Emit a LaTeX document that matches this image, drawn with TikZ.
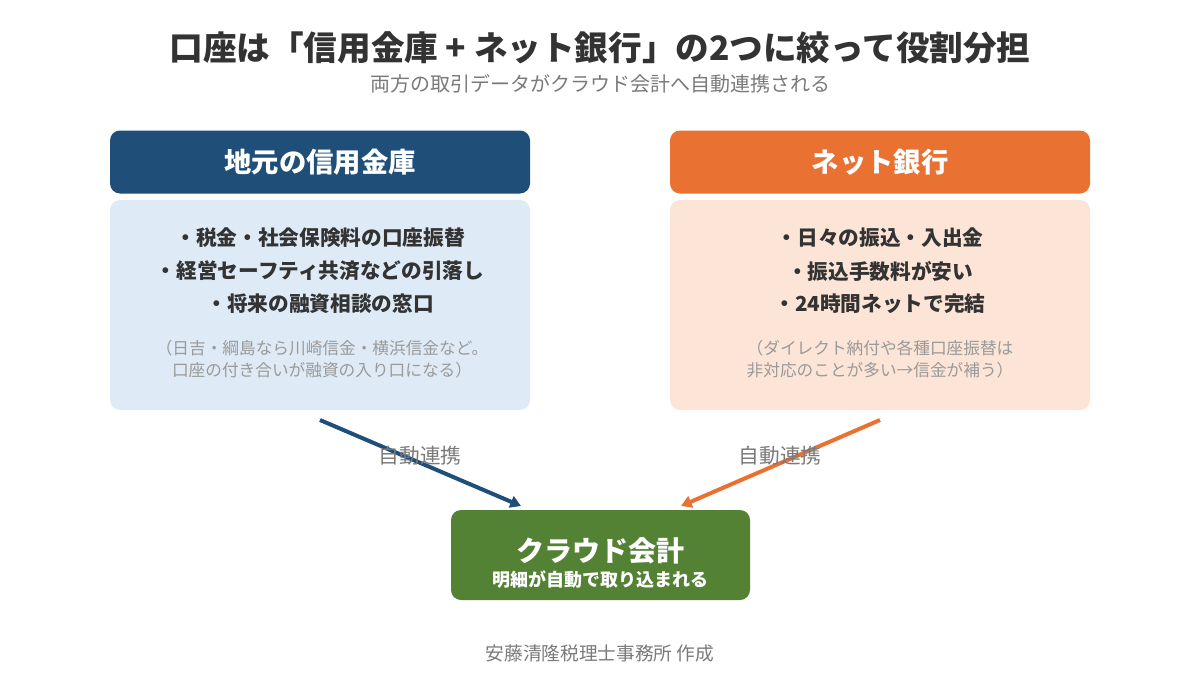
\documentclass[tikz,border=0pt]{standalone}
\usepackage{fontspec}
\setmainfont{Noto Sans CJK JP}
\newfontfamily\jp{Noto Sans CJK JP}
\usetikzlibrary{arrows.meta}
\definecolor{navy}{HTML}{1F4E79}
\definecolor{lblue}{HTML}{DEEAF6}
\definecolor{orng}{HTML}{E97132}
\definecolor{lorng}{HTML}{FCE4D6}
\definecolor{grn}{HTML}{548235}
\definecolor{txt}{HTML}{333333}
\definecolor{note}{HTML}{9A9A9A}
\definecolor{lab}{HTML}{7A7A7A}
\tikzset{
  hdr/.style={rounded corners=7.5pt, minimum width=315pt, minimum height=47.25pt, inner sep=0pt, text=white, font=\jp\bfseries\fontsize{20.5}{24}\selectfont},
  bodybox/.style={rounded corners=7.5pt, minimum width=315pt, minimum height=157.5pt, inner sep=0pt},
  bullet/.style={text=txt, font=\jp\bfseries\fontsize{15.5}{18}\selectfont, inner sep=0pt},
  notes/.style={text=note, font=\jp\fontsize{12.5}{16.5}\selectfont, align=center, inner sep=0pt},
  lbl/.style={text=lab, font=\jp\fontsize{15.5}{18}\selectfont, inner sep=0pt},
  conn/.style={line width=3pt, -{Triangle[length=8pt,width=9pt]}}
}
\begin{document}
\begin{tikzpicture}[x=0.75pt,y=-0.75pt]
\useasboundingbox[fill=white] (0,0) rectangle (1200,675);
% title
\node[text=txt, font=\jp\bfseries\fontsize{25.2}{29}\selectfont, inner sep=0pt] (title) at (600,48) {口座は「信用金庫 + ネット銀行」の2つに絞って役割分担};
\node[text=lab, font=\jp\fontsize{15}{18}\selectfont, inner sep=0pt] (sub) at (600,84) {両方の取引データがクラウド会計へ自動連携される};
% left
\node[hdr, fill=navy] (lh) at (320,162) {地元の信用金庫};
\node[bodybox, fill=lblue] (lb) at (320,305) {};
\node[bullet] (l1) at (320,238) {・税金・社会保険料の口座振替};
\node[bullet] (l2) at (320,271) {・経営セーフティ共済などの引落し};
\node[bullet] (l3) at (320,304) {・将来の融資相談の窓口};
\node[notes] (ln) at (322,359) {（日吉・綱島なら川崎信金・横浜信金など。\\口座の付き合いが融資の入り口になる）};
% right
\node[hdr, fill=orng] (rh) at (880,162) {ネット銀行};
\node[bodybox, fill=lorng] (rb) at (880,305) {};
\node[bullet] (r1) at (880,238) {・日々の振込・入出金};
\node[bullet] (r2) at (880,271) {・振込手数料が安い};
\node[bullet] (r3) at (880,304) {・24時間ネットで完結};
\node[notes] (rn) at (880,359) {（ダイレクト納付や各種口座振替は\\非対応のことが多い→信金が補う）};
% green
\node[rounded corners=7.5pt, minimum width=224.25pt, minimum height=67.5pt, inner sep=0pt, fill=grn] (cl) at (600.5,555) {};
\node[text=white, font=\jp\bfseries\fontsize{21}{24}\selectfont, inner sep=0pt] (clt) at (600,551) {クラウド会計};
\node[text=white, font=\jp\bfseries\fontsize{13.5}{16}\selectfont, inner sep=0pt] (cls) at (600,580) {明細が自動で取り込まれる};
% arrows
\coordinate (la) at (320,420);
\coordinate (le) at (521,506);
\coordinate (ra) at (880,420);
\coordinate (re) at (681,506);
\draw[conn, draw=navy, fill=navy] (la) -- (le);
\draw[conn, draw=orng, fill=orng] (ra) -- (re);
\node[lbl] (ll) at (420,456) {自動連携};
\node[lbl] (rl) at (780,456) {自動連携};
% footer
\node[text=lab, font=\jp\fontsize{14}{17}\selectfont, inner sep=0pt] (ft) at (600,653) {安藤清隆税理士事務所 作成};
\end{tikzpicture}
\end{document}
